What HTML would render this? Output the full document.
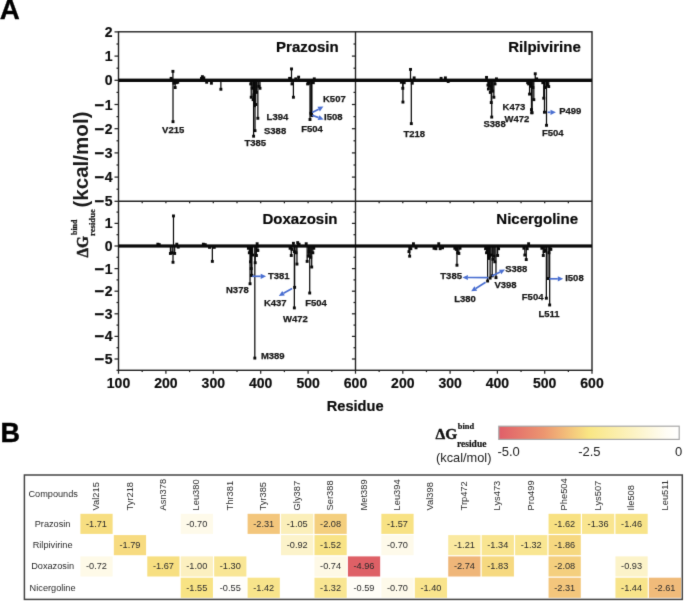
<!DOCTYPE html>
<html lang="en"><head><meta charset="utf-8"><title>Figure</title>
<style>
html,body{margin:0;padding:0;background:#fff;}
body{width:685px;height:601px;overflow:hidden;font-family:"Liberation Sans",Arial,sans-serif;}
svg{display:block;}
</style></head><body>
<svg width="685" height="601" viewBox="0 0 685 601">
<defs><filter id="soft" color-interpolation-filters="sRGB" x="0" y="0" width="685" height="601" filterUnits="userSpaceOnUse"><feConvolveMatrix order="3" kernelMatrix="0.01 0.08 0.01 0.08 0.64 0.08 0.01 0.08 0.01" divisor="1" edgeMode="duplicate" preserveAlpha="true"/></filter></defs>
<rect width="685" height="601" fill="#ffffff"/>
<g filter="url(#soft)">
<rect width="685" height="601" fill="#ffffff"/>
<g stroke="#222222" stroke-width="1.4" fill="none">
<rect x="118.5" y="31.8" width="473.5" height="338.5"/>
<line x1="355.5" y1="31.8" x2="355.5" y2="370.3"/>
<line x1="118.5" y1="201.3" x2="592.0" y2="201.3"/>
</g>
<g stroke="#222222" stroke-width="1.25">
<line x1="118.50" y1="201.30" x2="114.50" y2="201.30"/>
<line x1="118.50" y1="189.20" x2="116.50" y2="189.20"/>
<line x1="118.50" y1="177.10" x2="114.50" y2="177.10"/>
<line x1="118.50" y1="165.00" x2="116.50" y2="165.00"/>
<line x1="118.50" y1="152.90" x2="114.50" y2="152.90"/>
<line x1="118.50" y1="140.80" x2="116.50" y2="140.80"/>
<line x1="118.50" y1="128.70" x2="114.50" y2="128.70"/>
<line x1="118.50" y1="116.60" x2="116.50" y2="116.60"/>
<line x1="118.50" y1="104.50" x2="114.50" y2="104.50"/>
<line x1="118.50" y1="92.40" x2="116.50" y2="92.40"/>
<line x1="118.50" y1="80.30" x2="114.50" y2="80.30"/>
<line x1="118.50" y1="68.20" x2="116.50" y2="68.20"/>
<line x1="118.50" y1="56.10" x2="114.50" y2="56.10"/>
<line x1="118.50" y1="44.00" x2="116.50" y2="44.00"/>
<line x1="118.50" y1="31.90" x2="114.50" y2="31.90"/>
<line x1="118.50" y1="370.30" x2="116.50" y2="370.30"/>
<line x1="118.50" y1="359.00" x2="114.50" y2="359.00"/>
<line x1="118.50" y1="347.70" x2="116.50" y2="347.70"/>
<line x1="118.50" y1="336.40" x2="114.50" y2="336.40"/>
<line x1="118.50" y1="325.10" x2="116.50" y2="325.10"/>
<line x1="118.50" y1="313.80" x2="114.50" y2="313.80"/>
<line x1="118.50" y1="302.50" x2="116.50" y2="302.50"/>
<line x1="118.50" y1="291.20" x2="114.50" y2="291.20"/>
<line x1="118.50" y1="279.90" x2="116.50" y2="279.90"/>
<line x1="118.50" y1="268.60" x2="114.50" y2="268.60"/>
<line x1="118.50" y1="257.30" x2="116.50" y2="257.30"/>
<line x1="118.50" y1="246.00" x2="114.50" y2="246.00"/>
<line x1="118.50" y1="234.70" x2="116.50" y2="234.70"/>
<line x1="118.50" y1="223.40" x2="114.50" y2="223.40"/>
<line x1="118.50" y1="212.10" x2="116.50" y2="212.10"/>
<line x1="355.50" y1="189.20" x2="353.50" y2="189.20"/>
<line x1="355.50" y1="177.10" x2="351.90" y2="177.10"/>
<line x1="355.50" y1="165.00" x2="353.50" y2="165.00"/>
<line x1="355.50" y1="152.90" x2="351.90" y2="152.90"/>
<line x1="355.50" y1="140.80" x2="353.50" y2="140.80"/>
<line x1="355.50" y1="128.70" x2="351.90" y2="128.70"/>
<line x1="355.50" y1="116.60" x2="353.50" y2="116.60"/>
<line x1="355.50" y1="104.50" x2="351.90" y2="104.50"/>
<line x1="355.50" y1="92.40" x2="353.50" y2="92.40"/>
<line x1="355.50" y1="80.30" x2="351.90" y2="80.30"/>
<line x1="355.50" y1="68.20" x2="353.50" y2="68.20"/>
<line x1="355.50" y1="56.10" x2="351.90" y2="56.10"/>
<line x1="355.50" y1="44.00" x2="353.50" y2="44.00"/>
<line x1="355.50" y1="359.00" x2="351.90" y2="359.00"/>
<line x1="355.50" y1="347.70" x2="353.50" y2="347.70"/>
<line x1="355.50" y1="336.40" x2="351.90" y2="336.40"/>
<line x1="355.50" y1="325.10" x2="353.50" y2="325.10"/>
<line x1="355.50" y1="313.80" x2="351.90" y2="313.80"/>
<line x1="355.50" y1="302.50" x2="353.50" y2="302.50"/>
<line x1="355.50" y1="291.20" x2="351.90" y2="291.20"/>
<line x1="355.50" y1="279.90" x2="353.50" y2="279.90"/>
<line x1="355.50" y1="268.60" x2="351.90" y2="268.60"/>
<line x1="355.50" y1="257.30" x2="353.50" y2="257.30"/>
<line x1="355.50" y1="246.00" x2="351.90" y2="246.00"/>
<line x1="355.50" y1="234.70" x2="353.50" y2="234.70"/>
<line x1="355.50" y1="223.40" x2="351.90" y2="223.40"/>
<line x1="355.50" y1="212.10" x2="353.50" y2="212.10"/>
<line x1="118.50" y1="370.3" x2="118.50" y2="373.7"/>
<line x1="142.20" y1="370.3" x2="142.20" y2="372.1"/>
<line x1="379.15" y1="370.3" x2="379.15" y2="372.1"/>
<line x1="165.90" y1="370.3" x2="165.90" y2="373.7"/>
<line x1="402.80" y1="370.3" x2="402.80" y2="373.7"/>
<line x1="189.60" y1="370.3" x2="189.60" y2="372.1"/>
<line x1="426.45" y1="370.3" x2="426.45" y2="372.1"/>
<line x1="213.30" y1="370.3" x2="213.30" y2="373.7"/>
<line x1="450.10" y1="370.3" x2="450.10" y2="373.7"/>
<line x1="237.00" y1="370.3" x2="237.00" y2="372.1"/>
<line x1="473.75" y1="370.3" x2="473.75" y2="372.1"/>
<line x1="260.70" y1="370.3" x2="260.70" y2="373.7"/>
<line x1="497.40" y1="370.3" x2="497.40" y2="373.7"/>
<line x1="284.40" y1="370.3" x2="284.40" y2="372.1"/>
<line x1="521.05" y1="370.3" x2="521.05" y2="372.1"/>
<line x1="308.10" y1="370.3" x2="308.10" y2="373.7"/>
<line x1="544.70" y1="370.3" x2="544.70" y2="373.7"/>
<line x1="331.80" y1="370.3" x2="331.80" y2="372.1"/>
<line x1="568.35" y1="370.3" x2="568.35" y2="372.1"/>
<line x1="355.50" y1="370.3" x2="355.50" y2="373.7"/>
<line x1="592.00" y1="370.3" x2="592.00" y2="373.7"/>
<line x1="142.20" y1="201.3" x2="142.20" y2="203.3"/>
<line x1="379.15" y1="201.3" x2="379.15" y2="203.3"/>
<line x1="165.90" y1="201.3" x2="165.90" y2="203.3"/>
<line x1="402.80" y1="201.3" x2="402.80" y2="203.3"/>
<line x1="189.60" y1="201.3" x2="189.60" y2="203.3"/>
<line x1="426.45" y1="201.3" x2="426.45" y2="203.3"/>
<line x1="213.30" y1="201.3" x2="213.30" y2="203.3"/>
<line x1="450.10" y1="201.3" x2="450.10" y2="203.3"/>
<line x1="237.00" y1="201.3" x2="237.00" y2="203.3"/>
<line x1="473.75" y1="201.3" x2="473.75" y2="203.3"/>
<line x1="260.70" y1="201.3" x2="260.70" y2="203.3"/>
<line x1="497.40" y1="201.3" x2="497.40" y2="203.3"/>
<line x1="284.40" y1="201.3" x2="284.40" y2="203.3"/>
<line x1="521.05" y1="201.3" x2="521.05" y2="203.3"/>
<line x1="308.10" y1="201.3" x2="308.10" y2="203.3"/>
<line x1="544.70" y1="201.3" x2="544.70" y2="203.3"/>
<line x1="331.80" y1="201.3" x2="331.80" y2="203.3"/>
<line x1="568.35" y1="201.3" x2="568.35" y2="203.3"/>
</g>
<g font-family="Liberation Sans, Arial, sans-serif" font-weight="bold" font-size="14px" fill="#0c0c0c" stroke="#0c0c0c" stroke-width="0.2">
<text x="112.6" y="36.9" text-anchor="end">2</text>
<text x="112.6" y="61.1" text-anchor="end">1</text>
<text x="112.6" y="85.3" text-anchor="end">0</text>
<text x="112.6" y="109.5" text-anchor="end"><tspan font-size="17px" dy="1.0">−</tspan><tspan dy="-1.0" dx="0.4">1</tspan></text>
<text x="112.6" y="133.7" text-anchor="end"><tspan font-size="17px" dy="1.0">−</tspan><tspan dy="-1.0" dx="0.4">2</tspan></text>
<text x="112.6" y="157.9" text-anchor="end"><tspan font-size="17px" dy="1.0">−</tspan><tspan dy="-1.0" dx="0.4">3</tspan></text>
<text x="112.6" y="182.1" text-anchor="end"><tspan font-size="17px" dy="1.0">−</tspan><tspan dy="-1.0" dx="0.4">4</tspan></text>
<text x="112.6" y="206.3" text-anchor="end"><tspan font-size="17px" dy="1.0">−</tspan><tspan dy="-1.0" dx="0.4">5</tspan></text>
<text x="112.6" y="228.4" text-anchor="end">1</text>
<text x="112.6" y="251.0" text-anchor="end">0</text>
<text x="112.6" y="273.6" text-anchor="end"><tspan font-size="17px" dy="1.0">−</tspan><tspan dy="-1.0" dx="0.4">1</tspan></text>
<text x="112.6" y="296.2" text-anchor="end"><tspan font-size="17px" dy="1.0">−</tspan><tspan dy="-1.0" dx="0.4">2</tspan></text>
<text x="112.6" y="318.8" text-anchor="end"><tspan font-size="17px" dy="1.0">−</tspan><tspan dy="-1.0" dx="0.4">3</tspan></text>
<text x="112.6" y="341.4" text-anchor="end"><tspan font-size="17px" dy="1.0">−</tspan><tspan dy="-1.0" dx="0.4">4</tspan></text>
<text x="112.6" y="364.0" text-anchor="end"><tspan font-size="17px" dy="1.0">−</tspan><tspan dy="-1.0" dx="0.4">5</tspan></text>
<text x="118.5" y="387.6" text-anchor="middle">100</text>
<text x="165.9" y="387.6" text-anchor="middle">200</text>
<text x="213.3" y="387.6" text-anchor="middle">300</text>
<text x="260.7" y="387.6" text-anchor="middle">400</text>
<text x="308.1" y="387.6" text-anchor="middle">500</text>
<text x="355.5" y="387.6" text-anchor="middle">600</text>
<text x="402.8" y="387.6" text-anchor="middle">200</text>
<text x="450.1" y="387.6" text-anchor="middle">300</text>
<text x="497.4" y="387.6" text-anchor="middle">400</text>
<text x="544.7" y="387.6" text-anchor="middle">500</text>
<text x="592.0" y="387.6" text-anchor="middle">600</text>
</g>
<text x="355.2" y="411.2" text-anchor="middle" font-family="Liberation Sans, Arial, sans-serif" font-weight="bold" font-size="14.6px" fill="#0c0c0c" stroke="#0c0c0c" stroke-width="0.2">Residue</text>
<g transform="translate(87.6,257.6) rotate(-90)" fill="#1a1a1a" stroke="#1a1a1a"><text x="0" y="0" transform="scale(0.87,1.0)" font-family="Liberation Serif, serif" font-weight="bold" font-size="17.5px" stroke-width="0.5">ΔG</text><text x="22.6" y="-10.9" font-family="Liberation Serif, serif" font-weight="bold" font-size="7.9px" stroke-width="0.25">bind</text><text x="21.6" y="7.0" font-family="Liberation Serif, serif" font-weight="bold" font-size="8.7px" stroke-width="0.25">residue</text><text x="50" y="0.6" font-family="Liberation Sans, Arial, sans-serif" font-weight="bold" font-size="20.6px" stroke="none">(kcal/mol)</text></g>
<g font-family="Liberation Sans, Arial, sans-serif" font-weight="bold" font-size="15px" fill="#080808" stroke="#080808" stroke-width="0.2" text-anchor="end">
<text x="338.6" y="52">Prazosin</text>
<text x="580.8" y="51.8">Rilpivirine</text>
<text x="337.5" y="224.3">Doxazosin</text>
<text x="578" y="224.3">Nicergoline</text>
</g>
<g fill="#0a0a0a" stroke="#0a0a0a">
<rect x="118.5" y="78.6" width="473.5" height="3.4" stroke="none"/>
<rect x="118.5" y="244.4" width="473.5" height="3.2" stroke="none"/>
<line x1="171.11" y1="80.30" x2="171.11" y2="78.36" stroke-width="1.25"/>
<rect x="169.66" y="76.91" width="2.9" height="2.9" stroke="none"/>
<line x1="172.92" y1="80.30" x2="172.92" y2="71.35" stroke-width="1.25"/>
<rect x="171.47" y="69.90" width="2.9" height="2.9" stroke="none"/>
<line x1="173.01" y1="80.30" x2="173.01" y2="121.68" stroke-width="1.25"/>
<rect x="171.56" y="120.23" width="2.9" height="2.9" stroke="none"/>
<line x1="173.96" y1="80.30" x2="173.96" y2="83.20" stroke-width="1.25"/>
<rect x="172.51" y="81.75" width="2.9" height="2.9" stroke="none"/>
<line x1="175.14" y1="80.30" x2="175.14" y2="87.56" stroke-width="1.25"/>
<rect x="173.69" y="86.11" width="2.9" height="2.9" stroke="none"/>
<line x1="176.33" y1="80.30" x2="176.33" y2="82.72" stroke-width="1.25"/>
<rect x="174.88" y="81.27" width="2.9" height="2.9" stroke="none"/>
<line x1="177.75" y1="80.30" x2="177.75" y2="82.24" stroke-width="1.25"/>
<rect x="176.30" y="80.79" width="2.9" height="2.9" stroke="none"/>
<line x1="201.45" y1="80.30" x2="201.45" y2="78.36" stroke-width="1.25"/>
<rect x="200.00" y="76.91" width="2.9" height="2.9" stroke="none"/>
<line x1="202.40" y1="80.30" x2="202.40" y2="76.67" stroke-width="1.25"/>
<rect x="200.95" y="75.22" width="2.9" height="2.9" stroke="none"/>
<line x1="203.82" y1="80.30" x2="203.82" y2="77.88" stroke-width="1.25"/>
<rect x="202.37" y="76.43" width="2.9" height="2.9" stroke="none"/>
<line x1="206.66" y1="80.30" x2="206.66" y2="82.24" stroke-width="1.25"/>
<rect x="205.21" y="80.79" width="2.9" height="2.9" stroke="none"/>
<line x1="211.40" y1="80.30" x2="211.40" y2="83.20" stroke-width="1.25"/>
<rect x="209.95" y="81.75" width="2.9" height="2.9" stroke="none"/>
<line x1="220.88" y1="80.30" x2="220.88" y2="89.25" stroke-width="1.25"/>
<rect x="219.43" y="87.80" width="2.9" height="2.9" stroke="none"/>
<line x1="250.75" y1="80.30" x2="250.75" y2="83.93" stroke-width="1.25"/>
<rect x="249.30" y="82.48" width="2.9" height="2.9" stroke="none"/>
<line x1="251.22" y1="80.30" x2="251.22" y2="97.24" stroke-width="1.25"/>
<rect x="249.77" y="95.79" width="2.9" height="2.9" stroke="none"/>
<line x1="252.17" y1="80.30" x2="252.17" y2="88.29" stroke-width="1.25"/>
<rect x="250.72" y="86.84" width="2.9" height="2.9" stroke="none"/>
<line x1="253.12" y1="80.30" x2="253.12" y2="99.66" stroke-width="1.25"/>
<rect x="251.67" y="98.21" width="2.9" height="2.9" stroke="none"/>
<line x1="253.59" y1="80.30" x2="253.59" y2="136.20" stroke-width="1.25"/>
<rect x="252.14" y="134.75" width="2.9" height="2.9" stroke="none"/>
<line x1="254.06" y1="80.30" x2="254.06" y2="94.82" stroke-width="1.25"/>
<rect x="252.61" y="93.37" width="2.9" height="2.9" stroke="none"/>
<line x1="254.54" y1="80.30" x2="254.54" y2="105.71" stroke-width="1.25"/>
<rect x="253.09" y="104.26" width="2.9" height="2.9" stroke="none"/>
<line x1="255.01" y1="80.30" x2="255.01" y2="130.64" stroke-width="1.25"/>
<rect x="253.56" y="129.19" width="2.9" height="2.9" stroke="none"/>
<line x1="255.72" y1="80.30" x2="255.72" y2="104.50" stroke-width="1.25"/>
<rect x="254.27" y="103.05" width="2.9" height="2.9" stroke="none"/>
<line x1="256.43" y1="80.30" x2="256.43" y2="92.40" stroke-width="1.25"/>
<rect x="254.98" y="90.95" width="2.9" height="2.9" stroke="none"/>
<line x1="257.86" y1="80.30" x2="257.86" y2="118.29" stroke-width="1.25"/>
<rect x="256.41" y="116.84" width="2.9" height="2.9" stroke="none"/>
<line x1="258.80" y1="80.30" x2="258.80" y2="86.35" stroke-width="1.25"/>
<rect x="257.35" y="84.90" width="2.9" height="2.9" stroke="none"/>
<line x1="259.99" y1="80.30" x2="259.99" y2="88.29" stroke-width="1.25"/>
<rect x="258.54" y="86.84" width="2.9" height="2.9" stroke="none"/>
<line x1="289.61" y1="80.30" x2="289.61" y2="78.36" stroke-width="1.25"/>
<rect x="288.16" y="76.91" width="2.9" height="2.9" stroke="none"/>
<line x1="291.51" y1="80.30" x2="291.51" y2="68.93" stroke-width="1.25"/>
<rect x="290.06" y="67.48" width="2.9" height="2.9" stroke="none"/>
<line x1="291.98" y1="80.30" x2="291.98" y2="83.93" stroke-width="1.25"/>
<rect x="290.53" y="82.48" width="2.9" height="2.9" stroke="none"/>
<line x1="293.41" y1="80.30" x2="293.41" y2="97.24" stroke-width="1.25"/>
<rect x="291.96" y="95.79" width="2.9" height="2.9" stroke="none"/>
<line x1="295.78" y1="80.30" x2="295.78" y2="78.85" stroke-width="1.25"/>
<rect x="294.33" y="77.40" width="2.9" height="2.9" stroke="none"/>
<line x1="298.62" y1="80.30" x2="298.62" y2="77.15" stroke-width="1.25"/>
<rect x="297.17" y="75.70" width="2.9" height="2.9" stroke="none"/>
<line x1="307.63" y1="80.30" x2="307.63" y2="83.93" stroke-width="1.25"/>
<rect x="306.18" y="82.48" width="2.9" height="2.9" stroke="none"/>
<line x1="309.05" y1="80.30" x2="309.05" y2="83.20" stroke-width="1.25"/>
<rect x="307.60" y="81.75" width="2.9" height="2.9" stroke="none"/>
<line x1="310.00" y1="80.30" x2="310.00" y2="119.50" stroke-width="1.25"/>
<rect x="308.55" y="118.05" width="2.9" height="2.9" stroke="none"/>
<line x1="310.94" y1="80.30" x2="310.94" y2="113.21" stroke-width="1.25"/>
<rect x="309.49" y="111.76" width="2.9" height="2.9" stroke="none"/>
<line x1="311.42" y1="80.30" x2="311.42" y2="114.18" stroke-width="1.25"/>
<rect x="309.97" y="112.73" width="2.9" height="2.9" stroke="none"/>
<line x1="311.89" y1="80.30" x2="311.89" y2="115.63" stroke-width="1.25"/>
<rect x="310.44" y="114.18" width="2.9" height="2.9" stroke="none"/>
<line x1="313.31" y1="80.30" x2="313.31" y2="82.72" stroke-width="1.25"/>
<rect x="311.86" y="81.27" width="2.9" height="2.9" stroke="none"/>
<line x1="314.26" y1="80.30" x2="314.26" y2="78.85" stroke-width="1.25"/>
<rect x="312.81" y="77.40" width="2.9" height="2.9" stroke="none"/>
<line x1="401.38" y1="80.30" x2="401.38" y2="82.24" stroke-width="1.25"/>
<rect x="399.93" y="80.79" width="2.9" height="2.9" stroke="none"/>
<line x1="402.80" y1="80.30" x2="402.80" y2="88.29" stroke-width="1.25"/>
<rect x="401.35" y="86.84" width="2.9" height="2.9" stroke="none"/>
<line x1="402.94" y1="80.30" x2="402.94" y2="102.08" stroke-width="1.25"/>
<rect x="401.49" y="100.63" width="2.9" height="2.9" stroke="none"/>
<line x1="404.22" y1="80.30" x2="404.22" y2="82.72" stroke-width="1.25"/>
<rect x="402.77" y="81.27" width="2.9" height="2.9" stroke="none"/>
<line x1="410.51" y1="80.30" x2="410.51" y2="69.41" stroke-width="1.25"/>
<rect x="409.06" y="67.96" width="2.9" height="2.9" stroke="none"/>
<line x1="411.31" y1="80.30" x2="411.31" y2="123.62" stroke-width="1.25"/>
<rect x="409.86" y="122.17" width="2.9" height="2.9" stroke="none"/>
<line x1="412.26" y1="80.30" x2="412.26" y2="83.20" stroke-width="1.25"/>
<rect x="410.81" y="81.75" width="2.9" height="2.9" stroke="none"/>
<line x1="414.15" y1="80.30" x2="414.15" y2="77.88" stroke-width="1.25"/>
<rect x="412.70" y="76.43" width="2.9" height="2.9" stroke="none"/>
<line x1="441.11" y1="80.30" x2="441.11" y2="78.36" stroke-width="1.25"/>
<rect x="439.66" y="76.91" width="2.9" height="2.9" stroke="none"/>
<line x1="445.37" y1="80.30" x2="445.37" y2="77.88" stroke-width="1.25"/>
<rect x="443.92" y="76.43" width="2.9" height="2.9" stroke="none"/>
<line x1="448.21" y1="80.30" x2="448.21" y2="81.51" stroke-width="1.25"/>
<rect x="446.76" y="80.06" width="2.9" height="2.9" stroke="none"/>
<line x1="486.52" y1="80.30" x2="486.52" y2="77.40" stroke-width="1.25"/>
<rect x="485.07" y="75.95" width="2.9" height="2.9" stroke="none"/>
<line x1="487.94" y1="80.30" x2="487.94" y2="85.14" stroke-width="1.25"/>
<rect x="486.49" y="83.69" width="2.9" height="2.9" stroke="none"/>
<line x1="488.41" y1="80.30" x2="488.41" y2="89.01" stroke-width="1.25"/>
<rect x="486.96" y="87.56" width="2.9" height="2.9" stroke="none"/>
<line x1="489.36" y1="80.30" x2="489.36" y2="86.35" stroke-width="1.25"/>
<rect x="487.91" y="84.90" width="2.9" height="2.9" stroke="none"/>
<line x1="490.31" y1="80.30" x2="490.31" y2="92.40" stroke-width="1.25"/>
<rect x="488.86" y="90.95" width="2.9" height="2.9" stroke="none"/>
<line x1="491.25" y1="80.30" x2="491.25" y2="102.56" stroke-width="1.25"/>
<rect x="489.80" y="101.11" width="2.9" height="2.9" stroke="none"/>
<line x1="491.72" y1="80.30" x2="491.72" y2="117.08" stroke-width="1.25"/>
<rect x="490.27" y="115.63" width="2.9" height="2.9" stroke="none"/>
<line x1="492.67" y1="80.30" x2="492.67" y2="91.19" stroke-width="1.25"/>
<rect x="491.22" y="89.74" width="2.9" height="2.9" stroke="none"/>
<line x1="493.85" y1="80.30" x2="493.85" y2="97.24" stroke-width="1.25"/>
<rect x="492.40" y="95.79" width="2.9" height="2.9" stroke="none"/>
<line x1="495.03" y1="80.30" x2="495.03" y2="83.93" stroke-width="1.25"/>
<rect x="493.58" y="82.48" width="2.9" height="2.9" stroke="none"/>
<line x1="496.45" y1="80.30" x2="496.45" y2="78.85" stroke-width="1.25"/>
<rect x="495.00" y="77.40" width="2.9" height="2.9" stroke="none"/>
<line x1="527.67" y1="80.30" x2="527.67" y2="82.72" stroke-width="1.25"/>
<rect x="526.22" y="81.27" width="2.9" height="2.9" stroke="none"/>
<line x1="528.62" y1="80.30" x2="528.62" y2="83.93" stroke-width="1.25"/>
<rect x="527.17" y="82.48" width="2.9" height="2.9" stroke="none"/>
<line x1="529.56" y1="80.30" x2="529.56" y2="94.09" stroke-width="1.25"/>
<rect x="528.11" y="92.64" width="2.9" height="2.9" stroke="none"/>
<line x1="530.51" y1="80.30" x2="530.51" y2="86.35" stroke-width="1.25"/>
<rect x="529.06" y="84.90" width="2.9" height="2.9" stroke="none"/>
<line x1="531.46" y1="80.30" x2="531.46" y2="109.58" stroke-width="1.25"/>
<rect x="530.01" y="108.13" width="2.9" height="2.9" stroke="none"/>
<line x1="531.74" y1="80.30" x2="531.74" y2="112.73" stroke-width="1.25"/>
<rect x="530.29" y="111.28" width="2.9" height="2.9" stroke="none"/>
<line x1="532.02" y1="80.30" x2="532.02" y2="112.73" stroke-width="1.25"/>
<rect x="530.57" y="111.28" width="2.9" height="2.9" stroke="none"/>
<line x1="532.88" y1="80.30" x2="532.88" y2="87.56" stroke-width="1.25"/>
<rect x="531.42" y="86.11" width="2.9" height="2.9" stroke="none"/>
<line x1="533.82" y1="80.30" x2="533.82" y2="99.66" stroke-width="1.25"/>
<rect x="532.37" y="98.21" width="2.9" height="2.9" stroke="none"/>
<line x1="535.24" y1="80.30" x2="535.24" y2="73.77" stroke-width="1.25"/>
<rect x="533.79" y="72.32" width="2.9" height="2.9" stroke="none"/>
<line x1="536.66" y1="80.30" x2="536.66" y2="78.85" stroke-width="1.25"/>
<rect x="535.21" y="77.40" width="2.9" height="2.9" stroke="none"/>
<line x1="542.81" y1="80.30" x2="542.81" y2="82.72" stroke-width="1.25"/>
<rect x="541.36" y="81.27" width="2.9" height="2.9" stroke="none"/>
<line x1="543.75" y1="80.30" x2="543.75" y2="98.21" stroke-width="1.25"/>
<rect x="542.30" y="96.76" width="2.9" height="2.9" stroke="none"/>
<line x1="544.46" y1="80.30" x2="544.46" y2="112.24" stroke-width="1.25"/>
<rect x="543.01" y="110.79" width="2.9" height="2.9" stroke="none"/>
<line x1="545.17" y1="80.30" x2="545.17" y2="87.56" stroke-width="1.25"/>
<rect x="543.72" y="86.11" width="2.9" height="2.9" stroke="none"/>
<line x1="546.50" y1="80.30" x2="546.50" y2="125.31" stroke-width="1.25"/>
<rect x="545.05" y="123.86" width="2.9" height="2.9" stroke="none"/>
<line x1="547.54" y1="80.30" x2="547.54" y2="85.14" stroke-width="1.25"/>
<rect x="546.09" y="83.69" width="2.9" height="2.9" stroke="none"/>
<line x1="548.72" y1="80.30" x2="548.72" y2="86.59" stroke-width="1.25"/>
<rect x="547.27" y="85.14" width="2.9" height="2.9" stroke="none"/>
<line x1="157.84" y1="246.00" x2="157.84" y2="244.19" stroke-width="1.25"/>
<rect x="156.39" y="242.74" width="2.9" height="2.9" stroke="none"/>
<line x1="159.26" y1="246.00" x2="159.26" y2="244.64" stroke-width="1.25"/>
<rect x="157.81" y="243.19" width="2.9" height="2.9" stroke="none"/>
<line x1="170.40" y1="246.00" x2="170.40" y2="253.46" stroke-width="1.25"/>
<rect x="168.95" y="252.01" width="2.9" height="2.9" stroke="none"/>
<line x1="172.06" y1="246.00" x2="172.06" y2="252.78" stroke-width="1.25"/>
<rect x="170.61" y="251.33" width="2.9" height="2.9" stroke="none"/>
<line x1="173.01" y1="246.00" x2="173.01" y2="262.27" stroke-width="1.25"/>
<rect x="171.56" y="260.82" width="2.9" height="2.9" stroke="none"/>
<line x1="173.48" y1="246.00" x2="173.48" y2="215.94" stroke-width="1.25"/>
<rect x="172.03" y="214.49" width="2.9" height="2.9" stroke="none"/>
<line x1="174.67" y1="246.00" x2="174.67" y2="253.46" stroke-width="1.25"/>
<rect x="173.22" y="252.01" width="2.9" height="2.9" stroke="none"/>
<line x1="176.80" y1="246.00" x2="176.80" y2="244.19" stroke-width="1.25"/>
<rect x="175.35" y="242.74" width="2.9" height="2.9" stroke="none"/>
<line x1="178.22" y1="246.00" x2="178.22" y2="247.13" stroke-width="1.25"/>
<rect x="176.77" y="245.68" width="2.9" height="2.9" stroke="none"/>
<line x1="203.35" y1="246.00" x2="203.35" y2="244.19" stroke-width="1.25"/>
<rect x="201.90" y="242.74" width="2.9" height="2.9" stroke="none"/>
<line x1="205.24" y1="246.00" x2="205.24" y2="244.64" stroke-width="1.25"/>
<rect x="203.79" y="243.19" width="2.9" height="2.9" stroke="none"/>
<line x1="209.51" y1="246.00" x2="209.51" y2="247.36" stroke-width="1.25"/>
<rect x="208.06" y="245.91" width="2.9" height="2.9" stroke="none"/>
<line x1="212.35" y1="246.00" x2="212.35" y2="261.37" stroke-width="1.25"/>
<rect x="210.90" y="259.92" width="2.9" height="2.9" stroke="none"/>
<line x1="214.25" y1="246.00" x2="214.25" y2="247.36" stroke-width="1.25"/>
<rect x="212.80" y="245.91" width="2.9" height="2.9" stroke="none"/>
<line x1="248.38" y1="246.00" x2="248.38" y2="248.26" stroke-width="1.25"/>
<rect x="246.93" y="246.81" width="2.9" height="2.9" stroke="none"/>
<line x1="249.32" y1="246.00" x2="249.32" y2="252.78" stroke-width="1.25"/>
<rect x="247.87" y="251.33" width="2.9" height="2.9" stroke="none"/>
<line x1="250.03" y1="246.00" x2="250.03" y2="283.74" stroke-width="1.25"/>
<rect x="248.59" y="282.29" width="2.9" height="2.9" stroke="none"/>
<line x1="250.51" y1="246.00" x2="250.51" y2="261.82" stroke-width="1.25"/>
<rect x="249.06" y="260.37" width="2.9" height="2.9" stroke="none"/>
<line x1="251.22" y1="246.00" x2="251.22" y2="268.60" stroke-width="1.25"/>
<rect x="249.77" y="267.15" width="2.9" height="2.9" stroke="none"/>
<line x1="251.50" y1="246.00" x2="251.50" y2="275.38" stroke-width="1.25"/>
<rect x="250.05" y="273.93" width="2.9" height="2.9" stroke="none"/>
<line x1="251.88" y1="246.00" x2="251.88" y2="275.38" stroke-width="1.25"/>
<rect x="250.43" y="273.93" width="2.9" height="2.9" stroke="none"/>
<line x1="252.64" y1="246.00" x2="252.64" y2="255.04" stroke-width="1.25"/>
<rect x="251.19" y="253.59" width="2.9" height="2.9" stroke="none"/>
<line x1="255.20" y1="246.00" x2="255.20" y2="262.72" stroke-width="1.25"/>
<rect x="253.75" y="261.27" width="2.9" height="2.9" stroke="none"/>
<line x1="254.82" y1="246.00" x2="254.82" y2="358.10" stroke-width="1.25"/>
<rect x="253.37" y="356.65" width="2.9" height="2.9" stroke="none"/>
<line x1="256.43" y1="246.00" x2="256.43" y2="255.49" stroke-width="1.25"/>
<rect x="254.98" y="254.04" width="2.9" height="2.9" stroke="none"/>
<line x1="257.86" y1="246.00" x2="257.86" y2="250.52" stroke-width="1.25"/>
<rect x="256.41" y="249.07" width="2.9" height="2.9" stroke="none"/>
<line x1="257.14" y1="246.00" x2="257.14" y2="243.74" stroke-width="1.25"/>
<rect x="255.69" y="242.29" width="2.9" height="2.9" stroke="none"/>
<line x1="290.09" y1="246.00" x2="290.09" y2="248.26" stroke-width="1.25"/>
<rect x="288.64" y="246.81" width="2.9" height="2.9" stroke="none"/>
<line x1="291.27" y1="246.00" x2="291.27" y2="255.49" stroke-width="1.25"/>
<rect x="289.82" y="254.04" width="2.9" height="2.9" stroke="none"/>
<line x1="291.98" y1="246.00" x2="291.98" y2="249.39" stroke-width="1.25"/>
<rect x="290.53" y="247.94" width="2.9" height="2.9" stroke="none"/>
<line x1="293.41" y1="246.00" x2="293.41" y2="243.29" stroke-width="1.25"/>
<rect x="291.96" y="241.84" width="2.9" height="2.9" stroke="none"/>
<line x1="294.35" y1="246.00" x2="294.35" y2="251.65" stroke-width="1.25"/>
<rect x="292.90" y="250.20" width="2.9" height="2.9" stroke="none"/>
<line x1="294.35" y1="246.00" x2="294.35" y2="307.92" stroke-width="1.25"/>
<rect x="292.90" y="306.47" width="2.9" height="2.9" stroke="none"/>
<line x1="294.64" y1="246.00" x2="294.64" y2="287.36" stroke-width="1.25"/>
<rect x="293.19" y="285.91" width="2.9" height="2.9" stroke="none"/>
<line x1="296.01" y1="246.00" x2="296.01" y2="252.78" stroke-width="1.25"/>
<rect x="294.56" y="251.33" width="2.9" height="2.9" stroke="none"/>
<line x1="296.96" y1="246.00" x2="296.96" y2="264.08" stroke-width="1.25"/>
<rect x="295.51" y="262.63" width="2.9" height="2.9" stroke="none"/>
<line x1="297.67" y1="246.00" x2="297.67" y2="242.61" stroke-width="1.25"/>
<rect x="296.22" y="241.16" width="2.9" height="2.9" stroke="none"/>
<line x1="299.09" y1="246.00" x2="299.09" y2="244.19" stroke-width="1.25"/>
<rect x="297.64" y="242.74" width="2.9" height="2.9" stroke="none"/>
<line x1="306.20" y1="246.00" x2="306.20" y2="243.74" stroke-width="1.25"/>
<rect x="304.75" y="242.29" width="2.9" height="2.9" stroke="none"/>
<line x1="307.15" y1="246.00" x2="307.15" y2="261.37" stroke-width="1.25"/>
<rect x="305.70" y="259.92" width="2.9" height="2.9" stroke="none"/>
<line x1="308.34" y1="246.00" x2="308.34" y2="256.17" stroke-width="1.25"/>
<rect x="306.89" y="254.72" width="2.9" height="2.9" stroke="none"/>
<line x1="309.05" y1="246.00" x2="309.05" y2="251.65" stroke-width="1.25"/>
<rect x="307.60" y="250.20" width="2.9" height="2.9" stroke="none"/>
<line x1="309.71" y1="246.00" x2="309.71" y2="293.01" stroke-width="1.25"/>
<rect x="308.26" y="291.56" width="2.9" height="2.9" stroke="none"/>
<line x1="310.71" y1="246.00" x2="310.71" y2="257.30" stroke-width="1.25"/>
<rect x="309.26" y="255.85" width="2.9" height="2.9" stroke="none"/>
<line x1="311.70" y1="246.00" x2="311.70" y2="267.02" stroke-width="1.25"/>
<rect x="310.25" y="265.57" width="2.9" height="2.9" stroke="none"/>
<line x1="312.84" y1="246.00" x2="312.84" y2="252.78" stroke-width="1.25"/>
<rect x="311.39" y="251.33" width="2.9" height="2.9" stroke="none"/>
<line x1="313.79" y1="246.00" x2="313.79" y2="248.26" stroke-width="1.25"/>
<rect x="312.34" y="246.81" width="2.9" height="2.9" stroke="none"/>
<line x1="408.95" y1="246.00" x2="408.95" y2="251.65" stroke-width="1.25"/>
<rect x="407.50" y="250.20" width="2.9" height="2.9" stroke="none"/>
<line x1="409.66" y1="246.00" x2="409.66" y2="256.17" stroke-width="1.25"/>
<rect x="408.21" y="254.72" width="2.9" height="2.9" stroke="none"/>
<line x1="410.84" y1="246.00" x2="410.84" y2="248.71" stroke-width="1.25"/>
<rect x="409.39" y="247.26" width="2.9" height="2.9" stroke="none"/>
<line x1="413.44" y1="246.00" x2="413.44" y2="243.74" stroke-width="1.25"/>
<rect x="411.99" y="242.29" width="2.9" height="2.9" stroke="none"/>
<line x1="416.04" y1="246.00" x2="416.04" y2="247.81" stroke-width="1.25"/>
<rect x="414.59" y="246.36" width="2.9" height="2.9" stroke="none"/>
<line x1="434.02" y1="246.00" x2="434.02" y2="248.26" stroke-width="1.25"/>
<rect x="432.57" y="246.81" width="2.9" height="2.9" stroke="none"/>
<line x1="435.91" y1="246.00" x2="435.91" y2="248.71" stroke-width="1.25"/>
<rect x="434.46" y="247.26" width="2.9" height="2.9" stroke="none"/>
<line x1="438.75" y1="246.00" x2="438.75" y2="243.74" stroke-width="1.25"/>
<rect x="437.30" y="242.29" width="2.9" height="2.9" stroke="none"/>
<line x1="440.17" y1="246.00" x2="440.17" y2="248.71" stroke-width="1.25"/>
<rect x="438.72" y="247.26" width="2.9" height="2.9" stroke="none"/>
<line x1="442.53" y1="246.00" x2="442.53" y2="247.81" stroke-width="1.25"/>
<rect x="441.08" y="246.36" width="2.9" height="2.9" stroke="none"/>
<line x1="454.83" y1="246.00" x2="454.83" y2="248.26" stroke-width="1.25"/>
<rect x="453.38" y="246.81" width="2.9" height="2.9" stroke="none"/>
<line x1="456.25" y1="246.00" x2="456.25" y2="249.39" stroke-width="1.25"/>
<rect x="454.80" y="247.94" width="2.9" height="2.9" stroke="none"/>
<line x1="456.96" y1="246.00" x2="456.96" y2="265.21" stroke-width="1.25"/>
<rect x="455.51" y="263.76" width="2.9" height="2.9" stroke="none"/>
<line x1="457.67" y1="246.00" x2="457.67" y2="252.78" stroke-width="1.25"/>
<rect x="456.22" y="251.33" width="2.9" height="2.9" stroke="none"/>
<line x1="458.85" y1="246.00" x2="458.85" y2="253.46" stroke-width="1.25"/>
<rect x="457.40" y="252.01" width="2.9" height="2.9" stroke="none"/>
<line x1="460.03" y1="246.00" x2="460.03" y2="248.26" stroke-width="1.25"/>
<rect x="458.58" y="246.81" width="2.9" height="2.9" stroke="none"/>
<line x1="485.57" y1="246.00" x2="485.57" y2="248.71" stroke-width="1.25"/>
<rect x="484.12" y="247.26" width="2.9" height="2.9" stroke="none"/>
<line x1="486.52" y1="246.00" x2="486.52" y2="252.78" stroke-width="1.25"/>
<rect x="485.07" y="251.33" width="2.9" height="2.9" stroke="none"/>
<line x1="487.61" y1="246.00" x2="487.61" y2="281.03" stroke-width="1.25"/>
<rect x="486.16" y="279.58" width="2.9" height="2.9" stroke="none"/>
<line x1="488.65" y1="246.00" x2="488.65" y2="258.43" stroke-width="1.25"/>
<rect x="487.20" y="256.98" width="2.9" height="2.9" stroke="none"/>
<line x1="489.36" y1="246.00" x2="489.36" y2="256.17" stroke-width="1.25"/>
<rect x="487.91" y="254.72" width="2.9" height="2.9" stroke="none"/>
<line x1="490.12" y1="246.00" x2="490.12" y2="278.09" stroke-width="1.25"/>
<rect x="488.67" y="276.64" width="2.9" height="2.9" stroke="none"/>
<line x1="491.01" y1="246.00" x2="491.01" y2="255.04" stroke-width="1.25"/>
<rect x="489.56" y="253.59" width="2.9" height="2.9" stroke="none"/>
<line x1="492.20" y1="246.00" x2="492.20" y2="275.83" stroke-width="1.25"/>
<rect x="490.75" y="274.38" width="2.9" height="2.9" stroke="none"/>
<line x1="492.91" y1="246.00" x2="492.91" y2="259.33" stroke-width="1.25"/>
<rect x="491.46" y="257.88" width="2.9" height="2.9" stroke="none"/>
<line x1="493.85" y1="246.00" x2="493.85" y2="256.17" stroke-width="1.25"/>
<rect x="492.40" y="254.72" width="2.9" height="2.9" stroke="none"/>
<line x1="494.80" y1="246.00" x2="494.80" y2="261.82" stroke-width="1.25"/>
<rect x="493.35" y="260.37" width="2.9" height="2.9" stroke="none"/>
<line x1="495.98" y1="246.00" x2="495.98" y2="277.64" stroke-width="1.25"/>
<rect x="494.53" y="276.19" width="2.9" height="2.9" stroke="none"/>
<line x1="497.64" y1="246.00" x2="497.64" y2="255.49" stroke-width="1.25"/>
<rect x="496.19" y="254.04" width="2.9" height="2.9" stroke="none"/>
<line x1="498.58" y1="246.00" x2="498.58" y2="248.71" stroke-width="1.25"/>
<rect x="497.13" y="247.26" width="2.9" height="2.9" stroke="none"/>
<line x1="523.89" y1="246.00" x2="523.89" y2="248.26" stroke-width="1.25"/>
<rect x="522.44" y="246.81" width="2.9" height="2.9" stroke="none"/>
<line x1="524.83" y1="246.00" x2="524.83" y2="255.04" stroke-width="1.25"/>
<rect x="523.38" y="253.59" width="2.9" height="2.9" stroke="none"/>
<line x1="526.25" y1="246.00" x2="526.25" y2="259.56" stroke-width="1.25"/>
<rect x="524.80" y="258.11" width="2.9" height="2.9" stroke="none"/>
<line x1="527.20" y1="246.00" x2="527.20" y2="248.71" stroke-width="1.25"/>
<rect x="525.75" y="247.26" width="2.9" height="2.9" stroke="none"/>
<line x1="528.62" y1="246.00" x2="528.62" y2="243.74" stroke-width="1.25"/>
<rect x="527.17" y="242.29" width="2.9" height="2.9" stroke="none"/>
<line x1="541.86" y1="246.00" x2="541.86" y2="248.26" stroke-width="1.25"/>
<rect x="540.41" y="246.81" width="2.9" height="2.9" stroke="none"/>
<line x1="543.28" y1="246.00" x2="543.28" y2="255.49" stroke-width="1.25"/>
<rect x="541.83" y="254.04" width="2.9" height="2.9" stroke="none"/>
<line x1="544.23" y1="246.00" x2="544.23" y2="251.65" stroke-width="1.25"/>
<rect x="542.78" y="250.20" width="2.9" height="2.9" stroke="none"/>
<line x1="545.17" y1="246.00" x2="545.17" y2="250.52" stroke-width="1.25"/>
<rect x="543.72" y="249.07" width="2.9" height="2.9" stroke="none"/>
<line x1="546.36" y1="246.00" x2="546.36" y2="298.21" stroke-width="1.25"/>
<rect x="544.91" y="296.76" width="2.9" height="2.9" stroke="none"/>
<line x1="548.01" y1="246.00" x2="548.01" y2="278.54" stroke-width="1.25"/>
<rect x="546.56" y="277.09" width="2.9" height="2.9" stroke="none"/>
<line x1="549.67" y1="246.00" x2="549.67" y2="304.99" stroke-width="1.25"/>
<rect x="548.22" y="303.54" width="2.9" height="2.9" stroke="none"/>
<line x1="550.85" y1="246.00" x2="550.85" y2="249.39" stroke-width="1.25"/>
<rect x="549.40" y="247.94" width="2.9" height="2.9" stroke="none"/>
<line x1="548.96" y1="246.00" x2="548.96" y2="252.78" stroke-width="1.25"/>
<rect x="547.51" y="251.33" width="2.9" height="2.9" stroke="none"/>
</g>
<g font-family="Liberation Sans, Arial, sans-serif" font-weight="bold" font-size="9.5px" fill="#161616" stroke="#161616" stroke-width="0.25">
<text x="162.1" y="133.1">V215</text>
<text x="244.4" y="146.1">T385</text>
<text x="264.0" y="134.2">S388</text>
<text x="266.6" y="120.4">L394</text>
<text x="301.2" y="132.1">F504</text>
<text x="323.0" y="102.4">K507</text>
<text x="324.1" y="120.2">I508</text>
<text x="403.5" y="136.9">T218</text>
<text x="483.5" y="127.1">S388</text>
<text x="502.6" y="110.3">K473</text>
<text x="504.5" y="122.0">W472</text>
<text x="559.2" y="114.3">P499</text>
<text x="541.9" y="135.7">F504</text>
<text x="226.0" y="292.5">N378</text>
<text x="267.9" y="279.0">T381</text>
<text x="263.9" y="306.0">K437</text>
<text x="305.2" y="306.0">F504</text>
<text x="283.0" y="322.3">W472</text>
<text x="260.9" y="358.9">M389</text>
<text x="440.3" y="278.9">T385</text>
<text x="454.2" y="301.7">L380</text>
<text x="505.2" y="272.0">S388</text>
<text x="494.4" y="287.9">V398</text>
<text x="565.2" y="281.2">I508</text>
<text x="521.8" y="299.8">F504</text>
<text x="538.4" y="316.6">L511</text>
</g>
<g stroke="#4a6fd1" fill="#4a6fd1" stroke-width="1.7">
<line x1="312.20" y1="112.60" x2="318.64" y2="109.15"/>
<polygon points="323.40,106.60 319.87,111.44 317.41,106.86" stroke="none"/>
<line x1="312.20" y1="115.20" x2="318.56" y2="117.66"/>
<polygon points="323.60,119.60 317.63,120.08 319.50,115.23" stroke="none"/>
<line x1="547.60" y1="112.30" x2="550.50" y2="112.30"/>
<polygon points="555.90,112.30 550.50,114.90 550.50,109.70" stroke="none"/>
<line x1="252.20" y1="276.30" x2="260.70" y2="276.30"/>
<polygon points="266.10,276.30 260.70,278.90 260.70,273.70" stroke="none"/>
<line x1="292.10" y1="288.50" x2="283.50" y2="293.35"/>
<polygon points="278.80,296.00 282.23,291.08 284.78,295.61" stroke="none"/>
<line x1="488.30" y1="277.60" x2="467.90" y2="277.52"/>
<polygon points="462.50,277.50 467.91,274.92 467.89,280.12" stroke="none"/>
<line x1="485.60" y1="282.30" x2="475.78" y2="288.44"/>
<polygon points="471.20,291.30 474.40,286.23 477.16,290.64" stroke="none"/>
<line x1="491.80" y1="276.10" x2="500.16" y2="271.99"/>
<polygon points="505.00,269.60 501.30,274.32 499.01,269.65" stroke="none"/>
<line x1="549.40" y1="278.80" x2="557.80" y2="278.80"/>
<polygon points="563.20,278.80 557.80,281.40 557.80,276.20" stroke="none"/>
</g>
<text x="-0.2" y="18.9" font-family="Liberation Sans, Arial, sans-serif" font-weight="bold" font-size="27.8px" fill="#000" stroke="#000" stroke-width="0.3">A</text>
<text x="0.4" y="442.2" font-family="Liberation Sans, Arial, sans-serif" font-weight="bold" font-size="27px" fill="#000" stroke="#000" stroke-width="0.4">B</text>
<defs><linearGradient id="cb" x1="0" x2="1" y1="0" y2="0"><stop offset="0" stop-color="#e05f69"/><stop offset="0.25" stop-color="#ec9670"/><stop offset="0.5" stop-color="#f9e684"/><stop offset="0.75" stop-color="#fcf3c4"/><stop offset="0.93" stop-color="#fffdf5"/><stop offset="1" stop-color="#ffffff"/></linearGradient></defs>
<rect x="498.8" y="426.2" width="180.4" height="13.2" fill="url(#cb)" stroke="#a8a8a8" stroke-width="1.2"/>
<g font-family="Liberation Sans, Arial, sans-serif" font-size="13px" fill="#222">
<text x="497.4" y="455.8">-5.0</text>
<text x="589.4" y="455.8" text-anchor="middle">-2.5</text>
<text x="682.2" y="455.8" text-anchor="end">0</text>
<text x="436" y="462" font-size="12.8px">(kcal/mol)</text>
</g>
<g font-family="Liberation Serif, serif" font-weight="bold" fill="#111" stroke="#111">
<text x="435.6" y="438.8" font-size="15.5px" stroke-width="0.4">ΔG</text>
<text x="457.8" y="428.7" font-size="8.4px" stroke-width="0.2">bind</text>
<text x="457.0" y="446.5" font-size="9.5px" stroke-width="0.2">residue</text>
</g>
<rect x="24.4" y="475.0" width="657.9" height="124.39999999999998" fill="#fff" stroke="#444" stroke-width="1.5"/>
<rect x="80.40" y="513.80" width="32.24" height="20.10" fill="#f7de81"/>
<rect x="180.72" y="513.80" width="32.24" height="20.10" fill="#fefaea"/>
<rect x="247.60" y="513.80" width="32.24" height="20.10" fill="#f3c67c"/>
<rect x="281.04" y="513.80" width="32.24" height="20.10" fill="#fbefba"/>
<rect x="314.48" y="513.80" width="32.24" height="20.10" fill="#f4cf7e"/>
<rect x="381.36" y="513.80" width="32.24" height="20.10" fill="#f8e284"/>
<rect x="548.56" y="513.80" width="32.24" height="20.10" fill="#f8e182"/>
<rect x="582.00" y="513.80" width="32.24" height="20.10" fill="#f9e58f"/>
<rect x="615.44" y="513.80" width="32.24" height="20.10" fill="#f8e489"/>
<rect x="113.84" y="535.10" width="32.24" height="20.10" fill="#f7db80"/>
<rect x="281.04" y="535.10" width="32.24" height="20.10" fill="#fcf3ca"/>
<rect x="314.48" y="535.10" width="32.24" height="20.10" fill="#f8e386"/>
<rect x="381.36" y="535.10" width="32.24" height="20.10" fill="#fefaea"/>
<rect x="448.24" y="535.10" width="32.24" height="20.10" fill="#fae9a0"/>
<rect x="481.68" y="535.10" width="32.24" height="20.10" fill="#f9e591"/>
<rect x="515.12" y="535.10" width="32.24" height="20.10" fill="#f9e692"/>
<rect x="548.56" y="535.10" width="32.24" height="20.10" fill="#f6d880"/>
<rect x="80.40" y="556.40" width="32.24" height="20.10" fill="#fefae8"/>
<rect x="147.28" y="556.40" width="32.24" height="20.10" fill="#f7df81"/>
<rect x="180.72" y="556.40" width="32.24" height="20.10" fill="#fcf0c0"/>
<rect x="214.16" y="556.40" width="32.24" height="20.10" fill="#f9e695"/>
<rect x="314.48" y="556.40" width="32.24" height="20.10" fill="#fef9e6"/>
<rect x="347.92" y="556.40" width="32.24" height="20.10" fill="#de6066"/>
<rect x="448.24" y="556.40" width="32.24" height="20.10" fill="#efb679"/>
<rect x="481.68" y="556.40" width="32.24" height="20.10" fill="#f6d980"/>
<rect x="548.56" y="556.40" width="32.24" height="20.10" fill="#f4cf7e"/>
<rect x="615.44" y="556.40" width="32.24" height="20.10" fill="#fcf3c9"/>
<rect x="180.72" y="577.70" width="32.24" height="20.10" fill="#f8e384"/>
<rect x="214.16" y="577.70" width="32.24" height="20.10" fill="#fffefa"/>
<rect x="247.60" y="577.70" width="32.24" height="20.10" fill="#f8e48b"/>
<rect x="314.48" y="577.70" width="32.24" height="20.10" fill="#f9e692"/>
<rect x="347.92" y="577.70" width="32.24" height="20.10" fill="#fffdf7"/>
<rect x="381.36" y="577.70" width="32.24" height="20.10" fill="#fefaea"/>
<rect x="414.80" y="577.70" width="32.24" height="20.10" fill="#f9e48c"/>
<rect x="548.56" y="577.70" width="32.24" height="20.10" fill="#f3c67c"/>
<rect x="615.44" y="577.70" width="32.24" height="20.10" fill="#f8e48a"/>
<rect x="648.88" y="577.70" width="32.24" height="20.10" fill="#f0bb7a"/>
<g font-family="Liberation Sans, Arial, sans-serif" font-size="9.2px" fill="#2a2a2a">
<text x="28.4" y="497.4">Compounds</text>
<text x="52.6" y="526.6" text-anchor="middle">Prazosin</text>
<text x="96.5" y="526.6" text-anchor="middle">-1.71</text>
<text x="196.8" y="526.6" text-anchor="middle">-0.70</text>
<text x="263.7" y="526.6" text-anchor="middle">-2.31</text>
<text x="297.2" y="526.6" text-anchor="middle">-1.05</text>
<text x="330.6" y="526.6" text-anchor="middle">-2.08</text>
<text x="397.5" y="526.6" text-anchor="middle">-1.57</text>
<text x="564.7" y="526.6" text-anchor="middle">-1.62</text>
<text x="598.1" y="526.6" text-anchor="middle">-1.36</text>
<text x="631.6" y="526.6" text-anchor="middle">-1.46</text>
<text x="52.6" y="547.9" text-anchor="middle">Rilpivirine</text>
<text x="130.0" y="547.9" text-anchor="middle">-1.79</text>
<text x="297.2" y="547.9" text-anchor="middle">-0.92</text>
<text x="330.6" y="547.9" text-anchor="middle">-1.52</text>
<text x="397.5" y="547.9" text-anchor="middle">-0.70</text>
<text x="464.4" y="547.9" text-anchor="middle">-1.21</text>
<text x="497.8" y="547.9" text-anchor="middle">-1.34</text>
<text x="531.2" y="547.9" text-anchor="middle">-1.32</text>
<text x="564.7" y="547.9" text-anchor="middle">-1.86</text>
<text x="52.6" y="569.2" text-anchor="middle">Doxazosin</text>
<text x="96.5" y="569.2" text-anchor="middle">-0.72</text>
<text x="163.4" y="569.2" text-anchor="middle">-1.67</text>
<text x="196.8" y="569.2" text-anchor="middle">-1.00</text>
<text x="230.3" y="569.2" text-anchor="middle">-1.30</text>
<text x="330.6" y="569.2" text-anchor="middle">-0.74</text>
<text x="364.0" y="569.2" text-anchor="middle">-4.96</text>
<text x="464.4" y="569.2" text-anchor="middle">-2.74</text>
<text x="497.8" y="569.2" text-anchor="middle">-1.83</text>
<text x="564.7" y="569.2" text-anchor="middle">-2.08</text>
<text x="631.6" y="569.2" text-anchor="middle">-0.93</text>
<text x="52.6" y="590.5" text-anchor="middle">Nicergoline</text>
<text x="196.8" y="590.5" text-anchor="middle">-1.55</text>
<text x="230.3" y="590.5" text-anchor="middle">-0.55</text>
<text x="263.7" y="590.5" text-anchor="middle">-1.42</text>
<text x="330.6" y="590.5" text-anchor="middle">-1.32</text>
<text x="364.0" y="590.5" text-anchor="middle">-0.59</text>
<text x="397.5" y="590.5" text-anchor="middle">-0.70</text>
<text x="430.9" y="590.5" text-anchor="middle">-1.40</text>
<text x="564.7" y="590.5" text-anchor="middle">-2.31</text>
<text x="631.6" y="590.5" text-anchor="middle">-1.44</text>
<text x="665.0" y="590.5" text-anchor="middle">-2.61</text>
<text transform="translate(99.0,510.4) rotate(-90)" font-size="9.3px">Val215</text>
<text transform="translate(132.5,510.4) rotate(-90)" font-size="9.3px">Tyr218</text>
<text transform="translate(165.9,510.4) rotate(-90)" font-size="9.3px">Asn378</text>
<text transform="translate(199.3,510.4) rotate(-90)" font-size="9.3px">Leu380</text>
<text transform="translate(232.8,510.4) rotate(-90)" font-size="9.3px">Thr381</text>
<text transform="translate(266.2,510.4) rotate(-90)" font-size="9.3px">Tyr385</text>
<text transform="translate(299.7,510.4) rotate(-90)" font-size="9.3px">Gly387</text>
<text transform="translate(333.1,510.4) rotate(-90)" font-size="9.3px">Ser388</text>
<text transform="translate(366.5,510.4) rotate(-90)" font-size="9.3px">Met389</text>
<text transform="translate(400.0,510.4) rotate(-90)" font-size="9.3px">Leu394</text>
<text transform="translate(433.4,510.4) rotate(-90)" font-size="9.3px">Val398</text>
<text transform="translate(466.9,510.4) rotate(-90)" font-size="9.3px">Trp472</text>
<text transform="translate(500.3,510.4) rotate(-90)" font-size="9.3px">Lys473</text>
<text transform="translate(533.7,510.4) rotate(-90)" font-size="9.3px">Pro499</text>
<text transform="translate(567.2,510.4) rotate(-90)" font-size="9.3px">Phe504</text>
<text transform="translate(600.6,510.4) rotate(-90)" font-size="9.3px">Lys507</text>
<text transform="translate(634.1,510.4) rotate(-90)" font-size="9.3px">Ile508</text>
<text transform="translate(667.5,510.4) rotate(-90)" font-size="9.3px">Leu511</text>
</g>
</g>
</svg>
</body></html>
